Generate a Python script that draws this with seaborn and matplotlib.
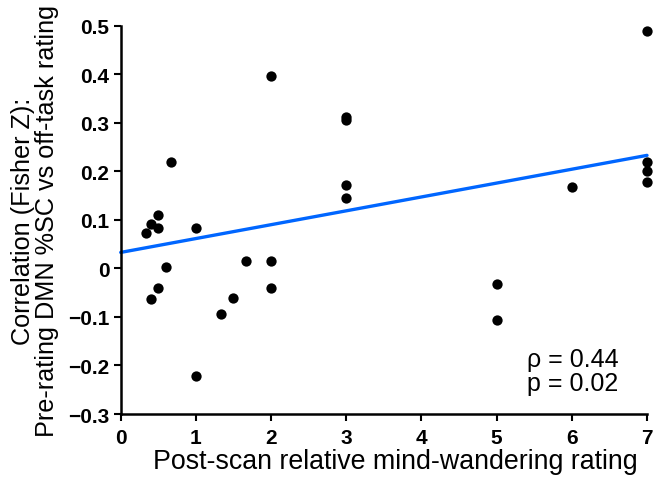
import numpy as np
import pandas as pd
import seaborn as sns
import matplotlib
matplotlib.use("Agg")
import matplotlib.pyplot as plt

# data
mw_rating = [0.33, 0.4, 0.5, 0.5, 1.0, 0.6, 0.5, 0.4, 1.67, 2.0, 2.0, 1.5, 1.33, 1.0,
             0.67, 2.0,
             3.0, 3.0, 3.0, 3.0,
             5.0, 5.0,
             6.0,
             7.0, 7.0, 7.0, 7.0]
fisher_z = [0.073, 0.091, 0.111, 0.083, 0.083, 0.002, -0.041, -0.062, 0.015, 0.016, -0.041, -0.060, -0.094, -0.222,
            0.219, 0.396,
            0.313, 0.306, 0.172, 0.146,
            -0.032, -0.106,
            0.168,
            0.490, 0.220, 0.201, 0.179]

# fitted line as drawn in the figure
fit_x = [0, 7]
fit_y = [0.033, 0.233]

x_ticks = [0, 1, 2, 3, 4, 5, 6, 7]
y_ticks = [-0.3, -0.2, -0.1, 0, 0.1, 0.2, 0.3, 0.4, 0.5]
y_tick_labels = ["\u22120.3", "\u22120.2", "\u22120.1", "0", "0.1", "0.2", "0.3", "0.4", "0.5"]

df = pd.DataFrame({"rating": mw_rating, "z": fisher_z})
fit = pd.DataFrame({"rating": fit_x, "z": fit_y})

sns.set_style("ticks")
plt.rcParams["font.family"] = ["Liberation Sans", "DejaVu Sans"]
plt.rcParams["text.color"] = "black"
plt.rcParams["axes.labelcolor"] = "black"
plt.rcParams["xtick.color"] = "black"
plt.rcParams["ytick.color"] = "black"

fig = plt.figure(figsize=(6.55, 4.81), dpi=100)
ax = fig.add_axes([0.1843, 0.1372, 0.8035, 0.8071])

sns.lineplot(data=fit, x="rating", y="z", ax=ax, color="#0066ff", lw=2.4, clip_on=False)
sns.scatterplot(data=df, x="rating", y="z", ax=ax, color="black", s=55,
                edgecolor="black", linewidth=0, clip_on=False, zorder=3)

ax.set_xlim(0, 7)
ax.set_ylim(-0.3, 0.5)
ax.set_xticks(x_ticks)
ax.set_yticks(y_ticks)
ax.set_yticklabels(y_tick_labels)
for lab in ax.get_xticklabels() + ax.get_yticklabels():
    lab.set_fontweight("bold")
    lab.set_fontsize(15)
ax.tick_params(axis="x", direction="out", length=5, width=1.5, pad=5)
ax.tick_params(axis="y", direction="out", length=5, width=1.5, pad=3)

sns.despine(ax=ax)
for side in ["left", "bottom"]:
    ax.spines[side].set_linewidth(1.8)
    ax.spines[side].set_color("black")

ax.set_xlabel("Post-scan relative mind-wandering rating", fontsize=19.3)
ax.xaxis.set_label_coords(0.522, -0.088)
ax.set_ylabel("Correlation (Fisher Z):\nPre-rating DMN %SC vs off-task rating",
              fontsize=18.2, labelpad=7, linespacing=0.95)

ax.text(5.41, -0.211, "\u03c1 = 0.44\np = 0.02", fontsize=18, ha="left", va="center",
        linespacing=1.0)

fig.savefig("out.png", dpi=100)
